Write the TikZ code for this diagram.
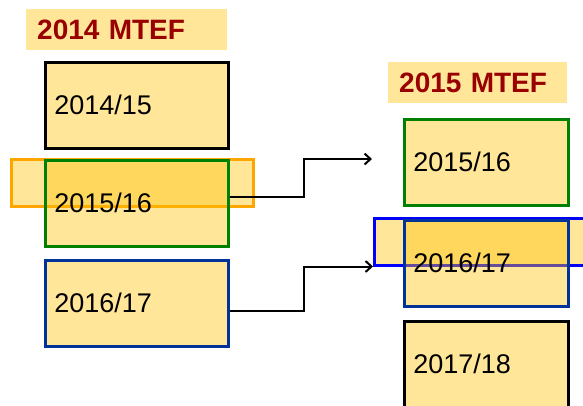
\documentclass[tikz,border=0pt]{standalone}
\usepackage{fontspec}
\setmainfont{Liberation Sans}
\usetikzlibrary{arrows.meta}
\definecolor{boxfill}{RGB}{255,230,153}
\definecolor{hlfill}{RGB}{255,192,0}
\definecolor{hlorange}{RGB}{255,165,0}
\definecolor{titlered}{RGB}{153,0,0}
\definecolor{boxgreen}{RGB}{0,128,0}
\definecolor{boxblue}{RGB}{0,51,153}
\definecolor{hlblue}{RGB}{0,0,255}
\begin{document}
	\begin{tikzpicture}
		[x=1pt, y=-1pt,
		yearbox/.style={
			rectangle,
			draw,
			line width=2.5pt,
			fill=hlfill,
			fill opacity=0.4,
			draw opacity=1,
			text opacity=1,
			anchor=north west,
			minimum height=86pt,
			inner xsep=9pt,
			align=left,
			font=\fontsize{27}{30}\selectfont
		},
		leftbox/.style={yearbox, text width=165pt},
		rightbox/.style={yearbox, text width=146pt},
		mtef/.style={
			rectangle,
			fill=boxfill,
			anchor=north west,
			minimum height=41pt,
			inner xsep=11pt,
			align=left,
			text=titlered,
			font=\fontsize{28}{30}\selectfont\bfseries
		},
		highlight/.style={rectangle,draw,line width=2.5pt,fill=hlfill,fill opacity=0.4,draw opacity=1,anchor=north west,minimum height=47pt},
		link/.style={draw,line width=2pt,-{Straight Barb[length=6pt,width=11pt]}}]
		\useasboundingbox (0,0) rectangle (583,405);
		\clip (0,0) rectangle (583,405);
		% 2014 MTEF
		\node[mtef, text width=179pt] (mtef2014) at (26,9) {2014 MTEF};
		\node[highlight, draw=hlorange, minimum width=242pt] (hl2015) at (10,158) {};
		\node[leftbox] (l1415) at (44,61) {2014/15};
		\node[leftbox, draw=boxgreen] (l1516) at (44,159) {2015/16};
		\node[leftbox, draw=boxblue] (l1617) at (44,259) {2016/17};
		% 2015 MTEF
		\node[mtef, text width=157pt] (mtef2015) at (388,62) {2015 MTEF};
		\node[highlight, draw=hlblue, minimum width=260pt] (hl2016) at (373,217) {};
		\node[rightbox, draw=boxgreen] (r1516) at (403,118) {2015/16};
		\node[rightbox, draw=boxblue] (r1617) at (403,219) {2016/17};
		\node[rightbox] (r1718) at (403,320) {2017/18};
		\coordinate (t1) at (372,159);
		\draw[link] ([yshift=6pt]l1516.east) -- ++(74,0) |- (t1);
		\draw[link] ([yshift=-8pt]l1617.east) -- ++(74,0) |- (hl2016.south west);
	\end{tikzpicture}
\end{document}
